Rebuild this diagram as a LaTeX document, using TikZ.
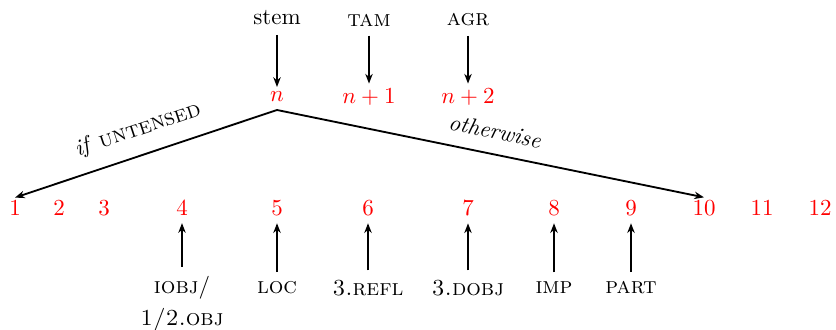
\documentclass[tikz,border=0pt]{standalone}
\usetikzlibrary{arrows.meta}
\begin{document}
\begin{tikzpicture}[x=0.4353pt,y=-0.4353pt,
  num/.style={text=red, inner sep=1pt},
  lab/.style={inner sep=1pt},
  tip/.tip={Stealth[length=4.2pt,width=3.2pt,inset=1.3pt]},
  arr/.style={line width=0.8pt,-tip},
  tree/.style={line width=0.8pt,-tip}]
\useasboundingbox (0,0) rectangle (836,330);
% top labels
\node[lab] (stem) at (277,18) {stem};
\node[lab] (tam) at (369,20) {\textsc{tam}};
\node[lab] (agr) at (468,20) {\textsc{agr}};
% slot positions n
\node[num] (n0) at (277,97) {$n$};
\node[num] (n1) at (369,97) {$n+1$};
\node[num] (n2) at (468,97) {$n+2$};
\draw[arr,shorten <=3pt] (stem.south) -- ([yshift=1pt]n0.north);
\draw[arr,shorten <=3pt] (tam.south) -- ([yshift=1pt]n1.north);
\draw[arr,shorten <=3pt] (agr.south) -- ([yshift=1pt]n2.north);
% numbers
\foreach \i/\x in {1/15,2/59,3/104,4/182,5/277,6/368,7/468,8/554,9/631,10/704,11/762,12/820}
  \node[num] (p\i) at (\x,208) {\i};
% branching
\coordinate (br) at (277,110);
\draw[tree] (br) -- node[midway,above,sloped,inner sep=6pt]{\textit{if} \textsc{untensed}} (p1.north);
\draw[tree] (br) -- node[midway,above,sloped,inner sep=6pt]{\textit{otherwise}} (p10.north);
% bottom labels
\node[lab] (l4) at (182,288) {\textsc{iobj}/};
\node[lab] (l4b) at (182,320) {\textsc{1/2.obj}};
\node[lab] (l5) at (277,288) {\textsc{loc}};
\node[lab] (l6) at (368,288) {\textsc{3.refl}};
\node[lab] (l7) at (468,288) {\textsc{3.dobj}};
\node[lab] (l8) at (554,288) {\textsc{imp}};
\node[lab] (l9) at (631,288) {\textsc{part}};
\foreach \i in {4,5,6,7,8,9}
  \draw[arr,shorten <=3pt,shorten >=2pt] (l\i.north) -- (p\i.south);
\end{tikzpicture}
\end{document}
